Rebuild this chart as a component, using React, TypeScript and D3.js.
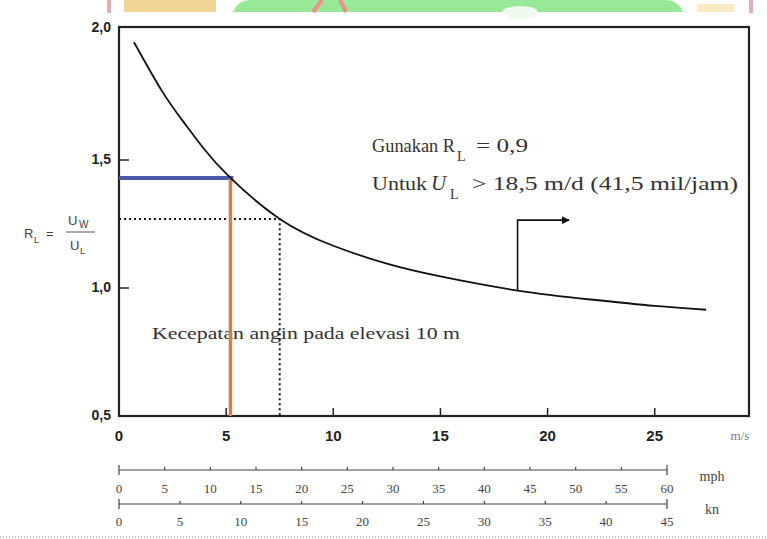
import React from "react";
import * as d3 from "d3";

// wind speed U_L (m/s) vs ratio R_L = U_W / U_L
const windMs = [0.7, 2, 3, 4, 5.2, 7.5, 10, 12.5, 15, 18.6, 22, 25, 27.4];
const ratioRL = [1.96, 1.77, 1.65, 1.54, 1.43, 1.27, 1.165, 1.095, 1.045, 0.99, 0.955, 0.93, 0.915];

const yTicks = [2.0, 1.5, 1.0, 0.5];
const yTickLabels = ["2,0", "1,5", "1,0", "0,5"];
const xTicks = [0, 5, 10, 15, 20, 25];
const mphTicks = [0, 5, 10, 15, 20, 25, 30, 35, 40, 45, 50, 55, 60];
const knTicks = [0, 5, 10, 15, 20, 25, 30, 35, 40, 45];

// highlighted reading (blue / orange) and dotted reading
const blueRead = { ms: 5.2, rl: 1.43 };
const dotRead = { ms: 7.5, rl: 1.27 };
const arrowFrom = { ms: 18.6, rl: 0.99 };
const arrowTo = { ms: 21.0, rl: 1.265 };

const width = 767;
const height = 539;
const marginLeft = 119;
const frameRight = 749;
const frameTop = 27;
const frameBottom = 416;

export default function App() {
  const x = d3.scaleLinear().domain([0, 29.4]).range([marginLeft, frameRight]);
  const y = d3.scaleLinear().domain([0.5, 2.0]).range([frameBottom, 32]);
  const mph = d3.scaleLinear().domain([0, 60]).range([marginLeft, 667]);
  const kn = d3.scaleLinear().domain([0, 45]).range([marginLeft, 667]);

  const pts = windMs.map((d, i) => [d, ratioRL[i]] as [number, number]);
  const line = d3
    .line<[number, number]>()
    .x((d) => x(d[0]))
    .y((d) => y(d[1]))
    .curve(d3.curveNatural);

  const serif = "'Liberation Serif', 'DejaVu Serif', serif";
  const sans = "'Liberation Sans', Arial, sans-serif";

  const mphY = 470;
  const knY = 504;

  return (
    <svg
      width={width}
      height={height}
      style={{ position: "absolute", left: 0, top: 0, background: "#fff" }}
    >
      <defs>
        <marker id="arr" viewBox="0 0 10 10" refX="9" refY="5" markerWidth="5" markerHeight="5" orient="auto">
          <path d="M0,0 L10,5 L0,10 z" fill="#111" />
        </marker>
      </defs>

      {/* watermark fragment at top */}
      <g opacity={0.85}>
        <rect x={107} y={0} width={4} height={13} fill="#d9a3a8" />
        <rect x={749} y={0} width={4} height={13} fill="#d9a3a8" />
        <rect x={124} y={0} width={92} height={12} fill="#f1cd85" />
        <path d="M233,12 Q238,0 250,0 L665,0 Q678,0 683,12 Z" fill="#86e586" />
        <path d="M313,12 L322,0 M340,0 L346,12" stroke="#f07a7a" strokeWidth={4} fill="none" />
        <ellipse cx={520} cy={12} rx={18} ry={6} fill="#eafaea" />
        <rect x={697} y={4} width={37} height={8} fill="#f7e7b8" />
      </g>

      {/* frame */}
      <rect
        x={marginLeft}
        y={frameTop}
        width={frameRight - marginLeft}
        height={frameBottom - frameTop}
        fill="none"
        stroke="#222"
        strokeWidth={2.2}
      />

      {/* y ticks */}
      {yTicks.map((t, i) => (
        <g key={t}>
          {t > 0.5 && t < 2 && (
            <line x1={marginLeft} x2={marginLeft + 10} y1={y(t)} y2={y(t)} stroke="#222" strokeWidth={1.5} />
          )}
          <text
            x={marginLeft - 8}
            y={t === 2 ? y(t) - 4 : y(t)}
            textAnchor="end"
            dominantBaseline="middle"
            fontFamily={sans}
            fontWeight="bold"
            fontSize={14}
            fill="#222"
          >
            {yTickLabels[i]}
          </text>
        </g>
      ))}

      {/* x ticks */}
      {xTicks.map((t) => (
        <g key={t}>
          {t > 0 && (
            <line x1={x(t)} x2={x(t)} y1={frameBottom} y2={frameBottom - 8} stroke="#222" strokeWidth={1.5} />
          )}
          <text
            x={x(t)}
            y={437}
            textAnchor="middle"
            dominantBaseline="middle"
            fontFamily={sans}
            fontWeight="bold"
            fontSize={15}
            fill="#222"
          >
            {t}
          </text>
        </g>
      ))}
      <text x={740} y={437} textAnchor="middle" dominantBaseline="middle" fontFamily={serif} fontSize={13} fill="#777">
        m/s
      </text>

      {/* y label */}
      <g fontFamily={sans} fill="#444">
        <text x={24} y={238} fontSize={13}>R</text>
        <text x={34} y={243} fontSize={9}>L</text>
        <text x={46} y={238} fontSize={13}>=</text>
        <text x={68} y={225} fontSize={13}>U</text>
        <text x={79} y={228} fontSize={10}>W</text>
        <line x1={66} x2={95} y1={232} y2={232} stroke="#555" strokeWidth={1} />
        <text x={70} y={250} fontSize={13}>U</text>
        <text x={80} y={254} fontSize={9}>L</text>
      </g>

      {/* annotation text */}
      <g fontFamily={serif} fill="#333">
        <text x={372} y={152} fontSize={18} textLength={83} lengthAdjust="spacingAndGlyphs">Gunakan R</text>
        <text x={457} y={161} fontSize={14}>L</text>
        <text x={476} y={152} fontSize={18} textLength={52} lengthAdjust="spacingAndGlyphs">= 0,9</text>
        <text x={372} y={190} fontSize={18} textLength={55} lengthAdjust="spacingAndGlyphs">Untuk</text>
        <text x={431} y={190} fontSize={21} fontStyle="italic">U</text>
        <text x={450} y={199} fontSize={14}>L</text>
        <text x={472} y={190} fontSize={18} textLength={266} lengthAdjust="spacingAndGlyphs">&gt; 18,5 m/d (41,5 mil/jam)</text>
        <text x={152} y={339} fontSize={17} textLength={308} lengthAdjust="spacingAndGlyphs">Kecepatan angin pada elevasi 10 m</text>
      </g>

      {/* dotted reading */}
      <path
        d={`M${marginLeft},${y(dotRead.rl)} H${x(dotRead.ms)} V${frameBottom}`}
        fill="none"
        stroke="#111"
        strokeWidth={2}
        strokeDasharray="2 3"
      />

      {/* highlighted reading */}
      <line
        x1={marginLeft}
        x2={x(blueRead.ms) + 3}
        y1={y(blueRead.rl)}
        y2={y(blueRead.rl)}
        stroke="#4b5aa6"
        strokeWidth={4}
      />
      <line
        x1={x(blueRead.ms)}
        x2={x(blueRead.ms)}
        y1={y(blueRead.rl)}
        y2={frameBottom}
        stroke="#d3814c"
        strokeWidth={3.5}
      />

      {/* curve */}
      <path d={line(pts) ?? ""} fill="none" stroke="#111" strokeWidth={1.8} />

      {/* arrow */}
      <path
        d={`M${x(arrowFrom.ms)},${y(arrowFrom.rl)} V${y(arrowTo.rl)} H${x(arrowTo.ms)}`}
        fill="none"
        stroke="#111"
        strokeWidth={1.6}
        markerEnd="url(#arr)"
      />

      {/* mph scale */}
      <g>
        <line x1={mph(0)} x2={mph(60)} y1={mphY} y2={mphY} stroke="#444" strokeWidth={1.2} />
        {mphTicks.map((t) => (
          <g key={t}>
            <line
              x1={mph(t)}
              x2={mph(t)}
              y1={t === 0 || t === 60 ? mphY - 5 : mphY - 3}
              y2={t === 0 || t === 60 ? mphY + 5 : mphY}
              stroke="#444"
              strokeWidth={1.2}
            />
            <text x={mph(t)} y={490} textAnchor="middle" dominantBaseline="middle" fontFamily={serif} fontSize={13} fill="#444">
              {t}
            </text>
          </g>
        ))}
        <text x={712} y={478} textAnchor="middle" dominantBaseline="middle" fontFamily={serif} fontSize={14} fill="#444">
          mph
        </text>
      </g>

      {/* kn scale */}
      <g>
        <line x1={kn(0)} x2={kn(45)} y1={knY} y2={knY} stroke="#444" strokeWidth={1.2} />
        {knTicks.map((t) => (
          <g key={t}>
            <line
              x1={kn(t)}
              x2={kn(t)}
              y1={t === 0 || t === 45 ? knY - 5 : knY - 3}
              y2={t === 0 || t === 45 ? knY + 5 : knY}
              stroke="#444"
              strokeWidth={1.2}
            />
            <text x={kn(t)} y={523} textAnchor="middle" dominantBaseline="middle" fontFamily={serif} fontSize={13} fill="#444">
              {t}
            </text>
          </g>
        ))}
        <text x={712} y={511} textAnchor="middle" dominantBaseline="middle" fontFamily={serif} fontSize={14} fill="#444">
          kn
        </text>
      </g>

      {/* dotted border at bottom */}
      <line x1={0} x2={width} y1={537} y2={537} stroke="#777" strokeWidth={1} strokeDasharray="1 2" />
    </svg>
  );
}
